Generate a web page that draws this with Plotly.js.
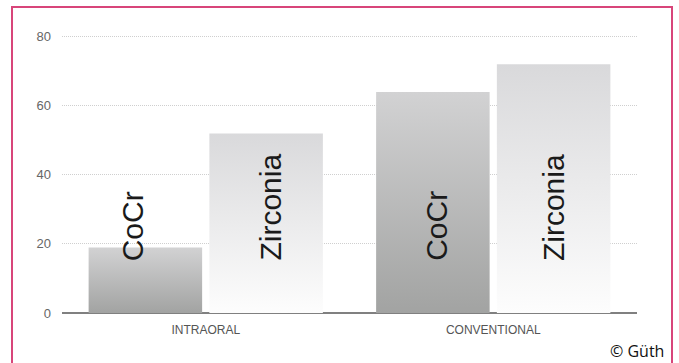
<!DOCTYPE html>
<html>
<head>
<meta charset="utf-8">
<script src="https://cdn.plot.ly/plotly-3.0.1.min.js"></script>
<style>
  html, body { margin: 0; padding: 0; background: #fff; }
  #chart { width: 679px; height: 363px; }
  #frame { position: absolute; left: 11px; top: 6px; width: 662px; height: 380px;
           border: 2px solid #d8457a; pointer-events: none; box-sizing: border-box; }
</style>
</head>
<body>
<div id="chart"></div>
<div id="frame"></div>
<script>
// ---- data ----
const categories = ['INTRAORAL', 'CONVENTIONAL'];
const seriesNames = ['CoCr', 'Zirconia'];
const cocrValues = [19, 64];
const zirconiaValues = [52, 72];
const yTicks = [0, 20, 40, 60, 80];
const credit = '© Güth';

// ---- style ----
const barGap = 0.16;
const barGroupGap = 0.06;
const labelBaseY = 14.5;      // where the rotated bar labels start (data units)
const labelShift = [[-12, 4], [4, 0]];   // small horizontal nudges, px
const gradients = [
  { id: 'gCoCr', top: '#d2d2d3', bottom: '#a2a3a2' },
  { id: 'gZr',   top: '#d9d9db', bottom: '#fdfdfd' }
];

const traces = [
  { type: 'bar', name: seriesNames[0], x: categories, y: cocrValues,
    marker: { color: '#b8b8b8', line: { width: 0 } }, hoverinfo: 'skip' },
  { type: 'bar', name: seriesNames[1], x: categories, y: zirconiaValues,
    marker: { color: '#ececec', line: { width: 0 } }, hoverinfo: 'skip' }
];

// rotated labels placed at each bar's slot centre
const slot = (1 - barGap) / seriesNames.length;
const annotations = [];
categories.forEach((c, i) => {
  seriesNames.forEach((s, j) => {
    const off = -((1 - barGap) / 2) + slot * (j + 0.5);
    annotations.push({
      x: i + off, y: labelBaseY, xref: 'x', yref: 'y', xshift: labelShift[i][j],
      text: s, showarrow: false, textangle: -90,
      xanchor: 'center', yanchor: 'bottom',
      font: { family: 'Liberation Sans, Arial, sans-serif', size: 30, color: '#1a1a1a' }
    });
  });
});
annotations.push({
  xref: 'paper', yref: 'paper', x: 1.05, y: -0.09, xanchor: 'right', yanchor: 'top',
  text: credit, showarrow: false,
  font: { family: 'Open Sans, Noto Sans, sans-serif', size: 16, color: '#111' }
});

const layout = {
  width: 679, height: 363,
  margin: { l: 62, r: 42, t: 35, b: 50 },
  paper_bgcolor: '#fff', plot_bgcolor: '#fff',
  showlegend: false,
  barmode: 'group', bargap: barGap, bargroupgap: barGroupGap,
  xaxis: {
    type: 'category', showgrid: false, showline: false, zeroline: false, ticks: '',
    ticklabelstandoff: 8,
    tickfont: { family: 'Liberation Sans, Arial, sans-serif', size: 12, color: '#555' }
  },
  yaxis: {
    range: [0, 80.5], tickvals: yTicks, ticks: '',
    showgrid: true, gridcolor: '#cfcfcf', griddash: '1px,1px', gridwidth: 1,
    zeroline: true, zerolinecolor: '#808080', zerolinewidth: 1.5,
    showline: false, ticklabelstandoff: 10,
    tickfont: { family: 'Liberation Sans, Arial, sans-serif', size: 13, color: '#666' }
  },
  annotations: annotations
};

Plotly.newPlot('chart', traces, layout, { displayModeBar: false, staticPlot: true }).then(gd => {
  const svgNS = 'http://www.w3.org/2000/svg';
  const svg = gd.querySelector('svg.main-svg');
  let defs = svg.querySelector('defs');
  if (!defs) { defs = document.createElementNS(svgNS, 'defs'); svg.insertBefore(defs, svg.firstChild); }
  gradients.forEach(g => {
    const lg = document.createElementNS(svgNS, 'linearGradient');
    lg.setAttribute('id', g.id);
    lg.setAttribute('x1', '0'); lg.setAttribute('y1', '0');
    lg.setAttribute('x2', '0'); lg.setAttribute('y2', '1');
    [[0, g.top], [1, g.bottom]].forEach(([o, c]) => {
      const st = document.createElementNS(svgNS, 'stop');
      st.setAttribute('offset', o); st.setAttribute('stop-color', c);
      lg.appendChild(st);
    });
    defs.appendChild(lg);
  });
  const traceGroups = gd.querySelectorAll('.barlayer .trace');
  traceGroups.forEach((tg, k) => {
    tg.querySelectorAll('path').forEach(p => { p.style.fill = 'url(#' + gradients[k].id + ')'; });
  });
});
</script>
</body>
</html>
